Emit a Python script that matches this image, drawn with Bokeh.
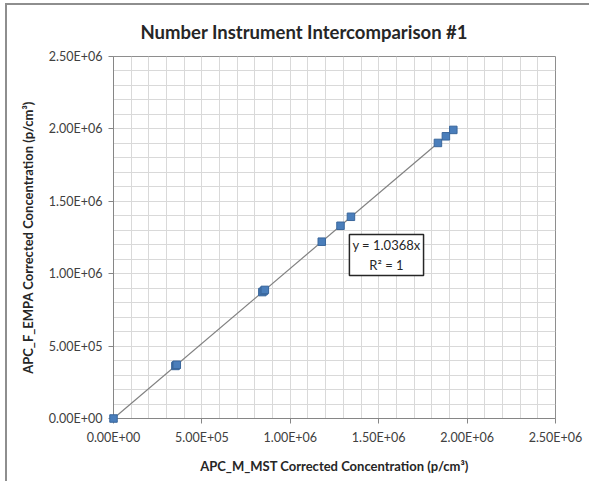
from bokeh.plotting import figure
from bokeh.models import FixedTicker, Label, ColumnDataSource
from bokeh.embed import file_html
from bokeh.resources import INLINE

# ---- data ----
x_mst = [0.0, 3.50e5, 3.55e5, 3.58e5, 8.42e5, 8.50e5, 8.56e5, 1.178e6, 1.284e6, 1.343e6, 1.835e6, 1.880e6, 1.922e6]
y_empa = [0.0, 3.63e5, 3.68e5, 3.71e5, 8.73e5, 8.81e5, 8.88e5, 1.221e6, 1.331e6, 1.393e6, 1.903e6, 1.949e6, 1.993e6]
slope = 1.0368
r2_text = "R\u00b2 = 1"
major_ticks = [0, 5e5, 1e6, 1.5e6, 2e6, 2.5e6]
tick_labels = ["0.00E+00", "5.00E+05", "1.00E+06", "1.50E+06", "2.00E+06", "2.50E+06"]
minor_ticks = [i * 1e5 for i in range(26)]

title_text = "Number Instrument Intercomparison #1"
x_label = "APC_M_MST Corrected Concentration (p/cm\u00b3)"
y_label = "APC_F_EMPA Corrected Concentration (p/cm\u00b3)"

FONT = "Lato"

p = figure(width=584, height=478, output_backend="svg", toolbar_location=None,
           x_range=(0, 2.5e6), y_range=(0, 2.5e6),
           min_border_left=106, min_border_right=36, min_border_top=51, min_border_bottom=65)
p.margin = (3, 0, 0, 5)
p.styles = {"border-left": "2px solid #8e8e8e", "border-top": "2px solid #8e8e8e"}

p.title.text = title_text
p.title.align = "left"
p.title.text_font = FONT
p.title.text_font_size = "18.5px"
p.title.text_font_style = "bold"
p.title.text_color = "#262626"
p.title.offset = 27
p.title.standoff = 27

p.outline_line_color = "#8e8e8e"
p.outline_line_width = 1

for ax, lab in ((p.xaxis, x_label), (p.yaxis, y_label)):
    ax.ticker = FixedTicker(ticks=major_ticks, minor_ticks=minor_ticks)
    ax.major_label_overrides = {t: l for t, l in zip(major_ticks, tick_labels)}
    ax.axis_label = lab
    ax.axis_label_text_font = FONT
    ax.axis_label_text_font_size = "13px"
    ax.axis_label_text_font_style = "bold"
    ax.axis_label_text_color = "#262626"
    ax.major_label_text_font = FONT
    ax.major_label_text_font_size = "12.5px"
    ax.major_label_text_color = "#404040"
    ax.axis_line_color = "#868686"
    ax.major_tick_line_color = "#868686"
    ax.major_tick_out = 5
    ax.major_tick_in = 0
    ax.minor_tick_line_color = None

p.yaxis.major_label_standoff = 6
p.yaxis.axis_label_standoff = 10
p.xaxis.major_label_standoff = 6
p.xaxis.axis_label_standoff = 10

for g in (p.xgrid, p.ygrid):
    g.grid_line_color = "#d9d9d9"
    g.minor_grid_line_color = "#d9d9d9"
    g.grid_line_width = 1
    g.minor_grid_line_width = 1

# trendline through origin
xmax = max(x_mst)
p.line([0, xmax], [0, slope * xmax], line_color="#808080", line_width=1.2)

src = ColumnDataSource(dict(x=x_mst, y=y_empa))
p.scatter("x", "y", source=src, marker="square", size=7.5,
          fill_color="#4a7ebb", line_color="#3a679c", line_width=1, level="overlay")

lbl = Label(x=1.544e6, y=1.129e6, text="y = " + str(slope) + "x\n" + r2_text,
            text_align="center", text_baseline="middle",
            text_font=FONT, text_font_size="13px", text_color="#262626",
            border_line_color="#262626", border_line_width=1.5,
            background_fill_color="white", padding=3)
p.add_layout(lbl)

open("out.html", "w").write(file_html(p, INLINE))
